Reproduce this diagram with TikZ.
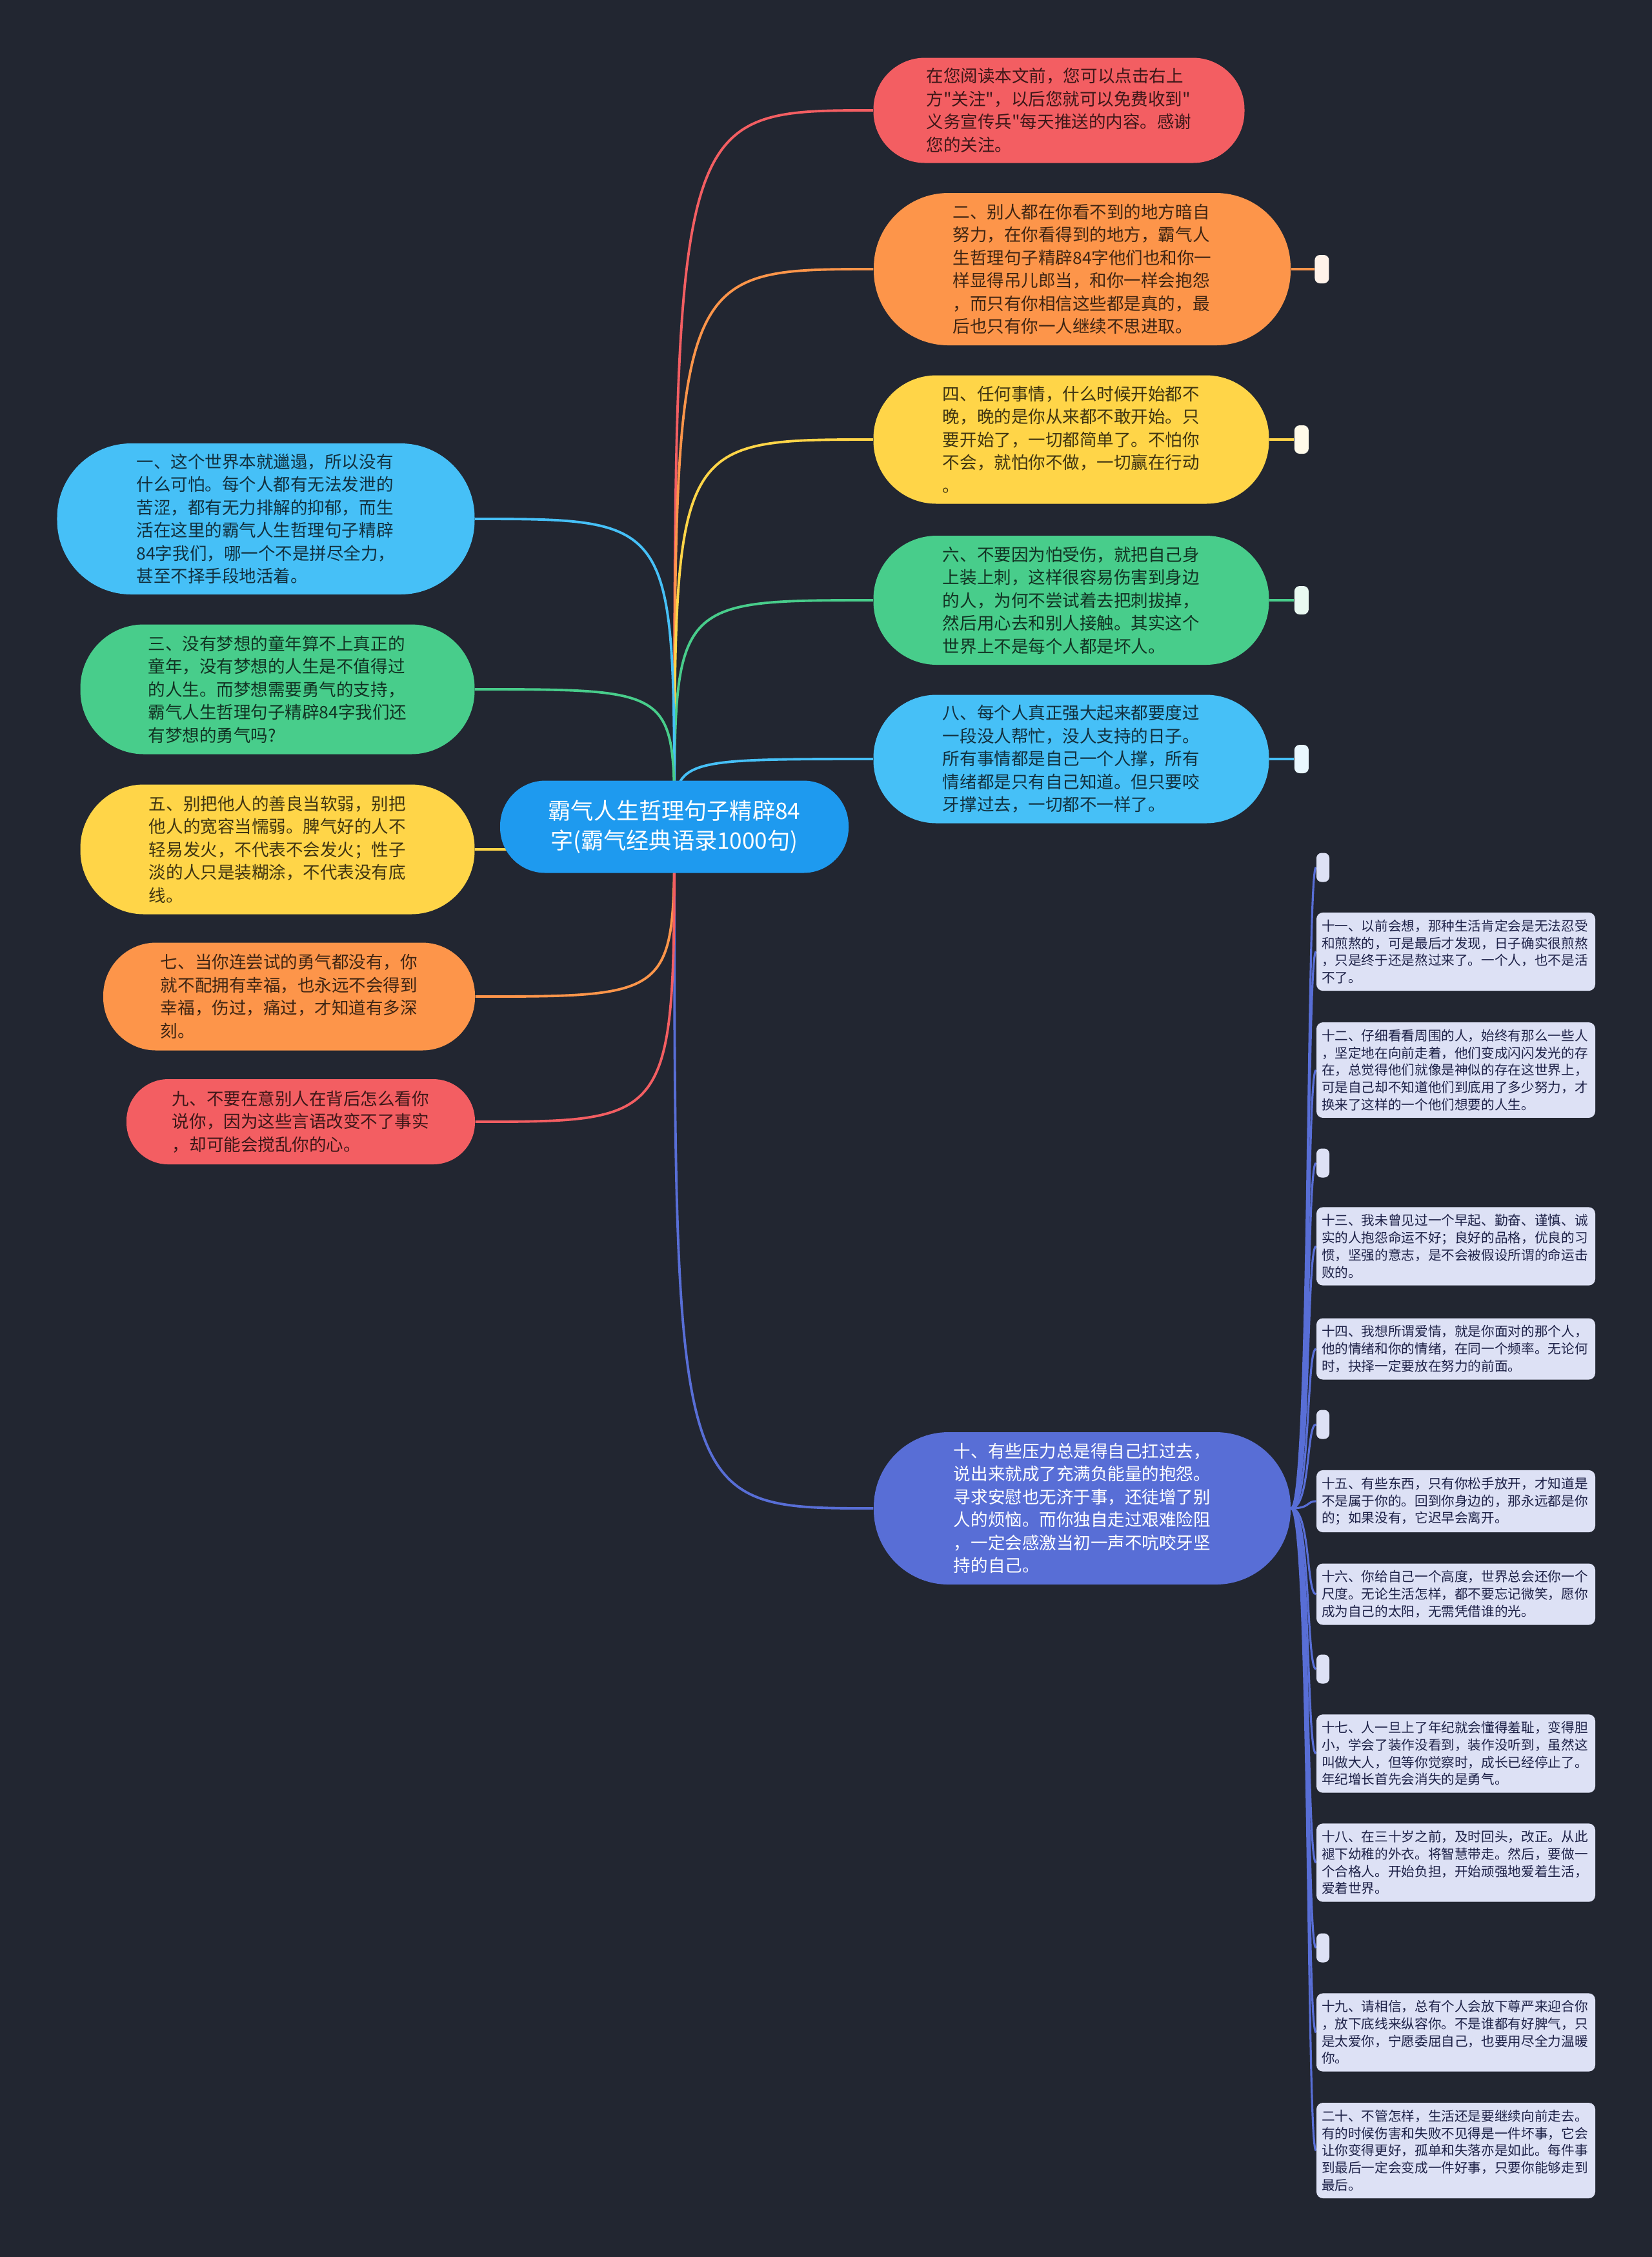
\documentclass[tikz,border=0pt]{standalone}
\usepackage{fontspec}
\setmainfont{Noto Sans CJK SC}[Ligatures=TeXOff]
\usetikzlibrary{positioning,backgrounds}
\definecolor{bgdark}{RGB}{34,38,49}
\definecolor{cred}{RGB}{243,94,98}
\definecolor{corange}{RGB}{253,149,74}
\definecolor{cyellow}{RGB}{255,213,72}
\definecolor{cgreen}{RGB}{72,205,139}
\definecolor{cblue}{RGB}{70,192,247}
\definecolor{cindigo}{RGB}{88,110,214}
\definecolor{croot}{RGB}{30,154,239}
\definecolor{cleaf}{RGB}{221,225,245}
\definecolor{cleaftext}{RGB}{30,34,72}
\newcommand{\pilltxt}{\fontsize{7.55}{10.1}\selectfont}
\newcommand{\roottxt}{\fontsize{10}{13.3}\selectfont}
\newcommand{\leaftxt}{\fontsize{5.87}{7.6}\selectfont}
\newcommand{\dq}{\symbol{34}}
\tikzset{link/.style={draw=#1, line width=1.1pt},
  twig/.style={draw=cindigo, line width=0.9pt},
  pill/.style n args={3}{rectangle, fill=#1, text=#1!25!black, minimum width=#2,
    minimum height=#3, rounded corners=0.49*#3, inner sep=0pt, align=left, font=\pilltxt},
  leaf/.style={rectangle, fill=cleaf, text=cleaftext, rounded corners=0.1cm,
    text width=4.16cm, inner xsep=0.08cm, inner ysep=0.11cm, align=left, font=\leaftxt},
  knob/.style={rectangle, fill=cleaf, rounded corners=0.08cm, minimum width=0.2cm,
    minimum height=0.45cm, inner sep=0pt},
  stub/.style={rectangle, fill=#1!12!white, rounded corners=0.08cm, minimum width=0.22cm,
    minimum height=0.44cm, inner sep=0pt}}
\begin{document}
\begin{tikzpicture}
  % root
  \node[rectangle, fill=croot, text=white, rounded corners=0.7cm, minimum width=5.40cm,
    minimum height=1.43cm, align=center, font=\roottxt] (ctr) at (10.45,-12.81)
    {霸气人生哲理句子精辟84\\字(霸气经典语录1000句)};
  % right branches
  \node[pill={cred}{5.75cm}{1.63cm}] (note) at (16.41,-1.71)
    {在您阅读本文前，您可以点击右上\\方\dq 关注\dq ，以后您就可以免费收到\dq\\义务宣传兵\dq 每天推送的内容。感谢\\您的关注。};
  \node[pill={corange}{6.46cm}{2.36cm}] (n2) at (16.77,-4.17)
    {二、别人都在你看不到的地方暗自\\努力，在你看得到的地方，霸气人\\生哲理句子精辟84字他们也和你一\\样显得吊儿郎当，和你一样会抱怨\\，而只有你相信这些都是真的，最\\后也只有你一人继续不思进取。};
  \node[pill={cyellow}{6.13cm}{1.99cm}] (n4) at (16.60,-6.81)
    {四、任何事情，什么时候开始都不\\晚，晚的是你从来都不敢开始。只\\要开始了，一切都简单了。不怕你\\不会，就怕你不做，一切赢在行动\\。};
  \node[pill={cgreen}{6.13cm}{2.00cm}] (n6) at (16.60,-9.30)
    {六、不要因为怕受伤，就把自己身\\上装上刺，这样很容易伤害到身边\\的人，为何不尝试着去把刺拔掉，\\然后用心去和别人接触。其实这个\\世界上不是每个人都是坏人。};
  \node[pill={cblue}{6.13cm}{1.99cm}] (n8) at (16.60,-11.76)
    {八、每个人真正强大起来都要度过\\一段没人帮忙，没人支持的日子。\\所有事情都是自己一个人撑，所有\\情绪都是只有自己知道。但只要咬\\牙撑过去，一切都不一样了。};
  \node[pill={cindigo}{6.46cm}{2.36cm}, text=white] (n10) at (16.77,-23.37)
    {十、有些压力总是得自己扛过去，\\说出来就成了充满负能量的抱怨。\\寻求安慰也无济于事，还徒增了别\\人的烦恼。而你独自走过艰难险阻\\，一定会感激当初一声不吭咬牙坚\\持的自己。};
  % left branches
  \node[pill={cblue}{6.47cm}{2.34cm}] (n1) at (4.12,-8.04)
    {一、这个世界本就邋遢，所以没有\\什么可怕。每个人都有无法发泄的\\苦涩，都有无力排解的抑郁，而生\\活在这里的霸气人生哲理句子精辟\\84字我们，哪一个不是拼尽全力，\\甚至不择手段地活着。};
  \node[pill={cgreen}{6.11cm}{2.01cm}] (n3) at (4.30,-10.68)
    {三、没有梦想的童年算不上真正的\\童年，没有梦想的人生是不值得过\\的人生。而梦想需要勇气的支持，\\霸气人生哲理句子精辟84字我们还\\有梦想的勇气吗?};
  \node[pill={cyellow}{6.11cm}{2.01cm}] (n5) at (4.30,-13.16)
    {五、别把他人的善良当软弱，别把\\他人的宽容当懦弱。脾气好的人不\\轻易发火，不代表不会发火；性子\\淡的人只是装糊涂，不代表没有底\\线。};
  \node[pill={corange}{5.76cm}{1.67cm}] (n7) at (4.48,-15.44)
    {七、当你连尝试的勇气都没有，你\\就不配拥有幸福，也永远不会得到\\幸福，伤过，痛过，才知道有多深\\刻。};
  \node[pill={cred}{5.40cm}{1.32cm}] (n9) at (4.66,-17.38)
    {九、不要在意别人在背后怎么看你\\说你，因为这些言语改变不了事实\\，却可能会搅乱你的心。};
  % collapsed children
  \node[stub=corange, right=0.36cm of n2] (t2) {};
  \node[stub=cyellow, right=0.38cm of n4] (t4) {};
  \node[stub=cgreen, right=0.38cm of n6] (t6) {};
  \node[stub=cblue, right=0.38cm of n8] (t8) {};
  % children of n10
  \node[knob] (e1) at (20.50,-13.44) {};
  \node[leaf] (n11) at (22.56,-14.745)
    {十一、以前会想，那种生活肯定会是无法忍受\\和煎熬的，可是最后才发现，日子确实很煎熬\\，只是终于还是熬过来了。一个人，也不是活\\不了。};
  \node[leaf] (n12) at (22.56,-16.58)
    {十二、仔细看看周围的人，始终有那么一些人\\，坚定地在向前走着，他们变成闪闪发光的存\\在，总觉得他们就像是神似的存在这世界上，\\可是自己却不知道他们到底用了多少努力，才\\换来了这样的一个他们想要的人生。};
  \node[knob] (e2) at (20.50,-18.02) {};
  \node[leaf] (n13) at (22.56,-19.31)
    {十三、我未曾见过一个早起、勤奋、谨慎、诚\\实的人抱怨命运不好；良好的品格，优良的习\\惯，坚强的意志，是不会被假设所谓的命运击\\败的。};
  \node[leaf] (n14) at (22.56,-20.90)
    {十四、我想所谓爱情，就是你面对的那个人，\\他的情绪和你的情绪，在同一个频率。无论何\\时，抉择一定要放在努力的前面。};
  \node[knob] (e3) at (20.50,-22.07) {};
  \node[leaf] (n15) at (22.56,-23.26)
    {十五、有些东西，只有你松手放开，才知道是\\不是属于你的。回到你身边的，那永远都是你\\的；如果没有，它迟早会离开。};
  \node[leaf] (n16) at (22.56,-24.70)
    {十六、你给自己一个高度，世界总会还你一个\\尺度。无论生活怎样，都不要忘记微笑，愿你\\成为自己的太阳，无需凭借谁的光。};
  \node[knob] (e4) at (20.50,-25.86) {};
  \node[leaf] (n17) at (22.56,-27.17)
    {十七、人一旦上了年纪就会懂得羞耻，变得胆\\小，学会了装作没看到，装作没听到，虽然这\\叫做大人，但等你觉察时，成长已经停止了。\\年纪增长首先会消失的是勇气。};
  \node[leaf] (n18) at (22.56,-28.86)
    {十八、在三十岁之前，及时回头，改正。从此\\褪下幼稚的外衣。将智慧带走。然后，要做一\\个合格人。开始负担，开始顽强地爱着生活，\\爱着世界。};
  \node[knob] (e5) at (20.50,-30.18) {};
  \node[leaf] (n19) at (22.56,-31.49)
    {十九、请相信，总有个人会放下尊严来迎合你\\，放下底线来纵容你。不是谁都有好脾气，只\\是太爱你，宁愿委屈自己，也要用尽全力温暖\\你。};
  \node[leaf] (n20) at (22.56,-33.32)
    {二十、不管怎样，生活还是要继续向前走去。\\有的时候伤害和失败不见得是一件坏事，它会\\让你变得更好，孤单和失落亦是如此。每件事\\到最后一定会变成一件好事，只要你能够走到\\最后。};
  % connectors, behind the nodes
  \begin{scope}[on background layer]
    \fill[bgdark] (0,0) rectangle (25.60,-34.97);
    \foreach \n/\c in {note/cred, n2/corange, n4/cyellow, n6/cgreen, n8/cblue, n10/cindigo}
      {\draw[link=\c] (ctr.center) .. controls (ctr.center |- \n.west) .. (\n.west);}
    \foreach \n/\c in {n1/cblue, n3/cgreen, n5/cyellow, n7/corange, n9/cred}
      {\draw[link=\c] (ctr.center) .. controls (ctr.center |- \n.east) .. (\n.east);}
    \foreach \a/\b/\c in {n2/t2/corange, n4/t4/cyellow, n6/t6/cgreen, n8/t8/cblue}
      {\draw[link=\c] (\a.east) -- (\b.west);}
    \foreach \n in {e1,n11,n12,e2,n13,n14,e3,n15,n16,e4,n17,n18,e5,n19,n20}
      {\draw[twig] (n10.east) .. controls +(0.3,0) and +(-0.15,0) .. (\n.west);}
  \end{scope}
\end{tikzpicture}
\end{document}
